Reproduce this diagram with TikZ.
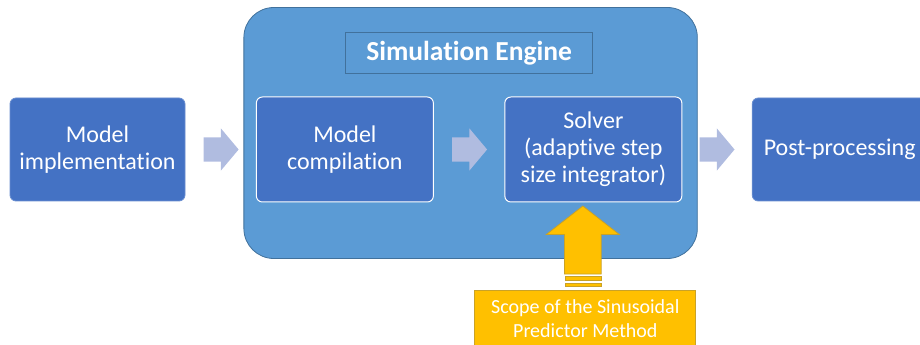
\documentclass[tikz,border=0pt]{standalone}
\usepackage{fontspec}
\setmainfont[Ligatures=NoCommon]{Carlito}
\usepackage{xcolor}
\definecolor{cDark}{HTML}{4472C4}
\definecolor{cMid}{HTML}{5B9BD5}
\definecolor{cEdge}{HTML}{41719C}
\definecolor{cFlow}{HTML}{B0BCE0}
\definecolor{cGold}{HTML}{FFC000}
\definecolor{cGoldEdge}{HTML}{C9A227}
\usetikzlibrary{positioning,shapes.arrows,fit,calc,backgrounds}
\tikzset{
  node-step/.style={fill=cDark,rounded corners=6pt,minimum width=175pt,
    minimum height=103pt,align=center,text=white,inner sep=0pt,
    font=\fontsize{24}{27}\selectfont},
  node-outer/.style={node-step,draw=cDark!80!white,line width=0.8pt},
  node-inner/.style={node-step,draw=white,line width=1pt,
    minimum width=177pt,minimum height=105pt},
  node-title/.style={draw=cEdge,line width=1pt,minimum width=247pt,
    minimum height=41pt,inner sep=0pt,text=white,
    font=\fontsize{27.5}{30}\selectfont\bfseries},
  node-engine/.style={fill=cMid,draw=cEdge,line width=0.8pt,
    rounded corners=30pt,inner sep=0pt},
  node-scope/.style={fill=cGold,draw=cGoldEdge,line width=0.8pt,
    minimum width=221pt,minimum height=58pt,inner sep=0pt,align=center,
    text=white,font=\fontsize{20}{24}\selectfont},
  node-stripe/.style={fill=cGold,draw=cGoldEdge,line width=0.6pt,
    minimum width=36pt,inner sep=0pt},
  arrow-flow/.style={single arrow,fill=cFlow,minimum height=35pt,
    inner xsep=0pt,inner ysep=12pt,single arrow head extend=9pt,
    single arrow tip angle=100,single arrow head indent=0pt},
  arrow-scope/.style={single arrow,fill=cGold,draw=cGoldEdge,line width=0.8pt,
    rotate=90,minimum height=68pt,inner xsep=0pt,inner ysep=18pt,
    single arrow head extend=18pt,single arrow tip angle=104},
}
\begin{document}
\begin{tikzpicture}
  \useasboundingbox (0,0) rectangle (920pt,345pt);
  % main flow, left to right
  \node[node-outer]                  (impl)   at (97.5pt,195.5pt) {Model\\implementation};
  \node[arrow-flow,right=18pt of impl] (a1)   {};
  \node[node-inner,right=17pt of a1]  (comp)   {Model\\compilation};
  \node[arrow-flow,right=18pt of comp] (a2)   {};
  \node[node-inner,right=17pt of a2]  (solver) {Solver\\(adaptive step\\size integrator)};
  \node[arrow-flow,right=17pt of solver] (a3) {};
  \node[node-outer,right=17pt of a3]  (post)   {Post-processing};
  % engine frame
  \coordinate (mid) at ($(comp.north)!0.5!(solver.north)$);
  \node[node-title,above=22pt of mid] (title) {Simulation Engine};
  \begin{scope}[on background layer]
    \node[node-engine,fit={($(comp.south west)+(-12pt,-56pt)$) ($(title.north -| solver.east)+(15pt,25pt)$)}] (engine) {};
  \end{scope}
  % scope of the method
  \node[arrow-scope,anchor=tip] (sipm) at ($(solver.south)+(-10.5pt,-3pt)$) {};
  \node[node-stripe,minimum height=4pt,below=2pt of sipm.tail] (st1) {};
  \node[node-stripe,minimum height=3pt,below=2pt of st1] (st2) {};
  \node[node-scope,below=3pt of st2,xshift=2.5pt] (scope) {Scope of the Sinusoidal\\Predictor Method};
\end{tikzpicture}
\end{document}
